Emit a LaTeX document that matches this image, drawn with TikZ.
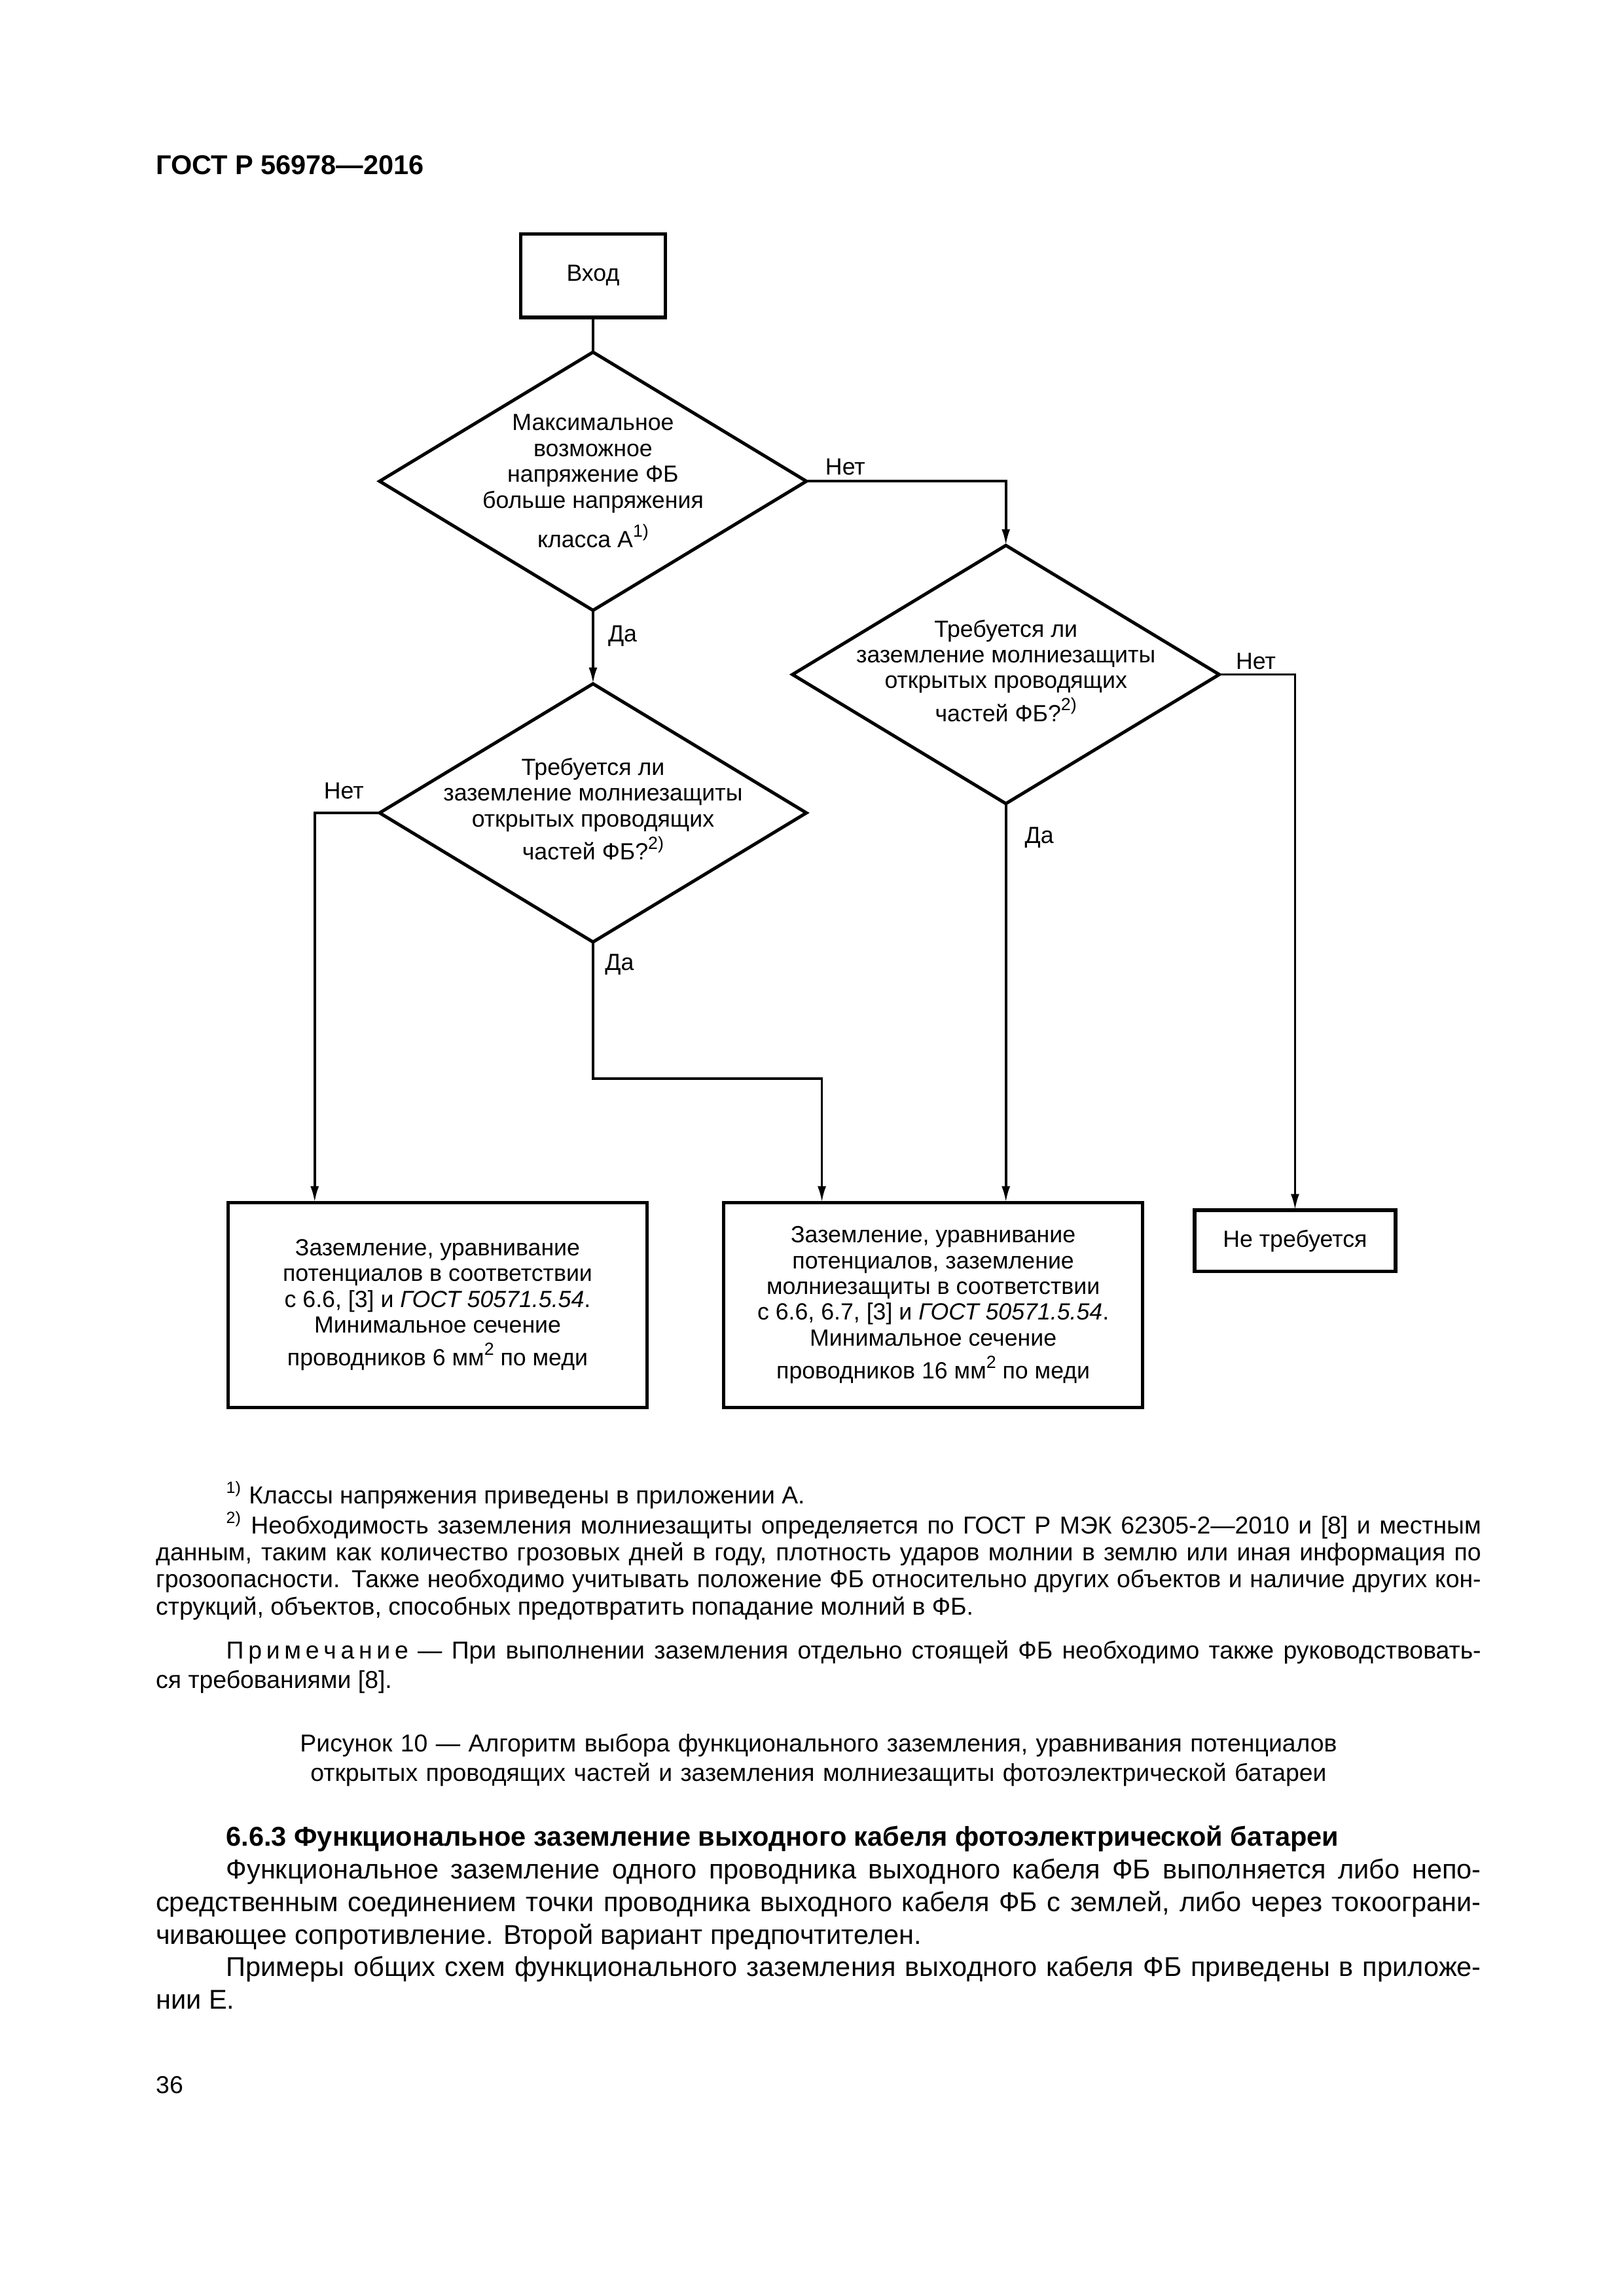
\documentclass[tikz,border=0pt]{standalone}
\usepackage{fontspec}
\usepackage{graphicx}
\setmainfont{Liberation Sans}
\usetikzlibrary{shapes.geometric, arrows.meta}
\usetikzlibrary{positioning}
\tikzstyle{startstop} = [rectangle, minimum width=1.87cm, minimum height=1.08cm, text centered, draw=black, line width=1.3pt, outer sep=0pt, font=\fontsize{8.6}{9.5}\selectfont]
\tikzstyle{decision} = [diamond, minimum width=5.52cm, minimum height=3.34cm, draw=black, line width=1.2pt, inner sep=0pt, outer sep=0pt]
\tikzstyle{dtext} = [align=center, inner sep=0pt, font=\fontsize{8.6}{9.5}\selectfont]
\tikzstyle{process} = [rectangle, minimum width=5.42cm, minimum height=2.65cm, align=center, draw=black, line width=1.3pt, outer sep=0pt, font=\fontsize{8.6}{9.5}\selectfont]
\tikzstyle{arrow} = [line width=0.9pt, -{Latex[length=2.1mm, width=1.1mm]}]
\tikzstyle{conn} = [line width=0.9pt]
\tikzstyle{lbl} = [inner sep=0pt, font=\fontsize{8.6}{9.5}\selectfont]
\tikzstyle{para} = [inner sep=0pt, text width=17.14cm, align=justify, anchor=base west]
\newcommand{\sps}{\kern0.57mm}
\newcommand{\supr}[1]{\smash{\raisebox{0.45em}{\scalebox{0.75}{#1}}}}
\hyphenpenalty=10000
\exhyphenpenalty=10000

\begin{document}
\begin{tikzpicture}[node distance=1cm]
    \useasboundingbox (0,0) rectangle (21,-29.7);
    \node (head) [anchor=base west, inner sep=0pt, font=\fontsize{10}{12}\selectfont\bfseries] at (2.01,-2.26) {ГОСТ Р 56978—2016};

    \node (start) [startstop] at (7.67,-3.565) {Вход};
    \node (dec1) [decision, below=0.45cm of start] {};
    \node (dec1txt) [dtext] at (dec1) {Максимальное\\возможное\\напряжение ФБ\\больше напряжения\\[1.8mm]класса А\supr{1)}};
    \node (dec2) [decision, right=-0.18cm of dec1, yshift=-2.5cm] {};
    \node (dec2txt) [dtext, yshift=0.05cm] at (dec2) {Требуется ли\\заземление молниезащиты\\открытых проводящих\\[0.9mm]частей ФБ?\supr{2)}};
    \node (dec3) [decision, below=0.95cm of dec1] {};
    \node (dec3txt) [dtext, yshift=0.05cm] at (dec3) {Требуется ли\\заземление молниезащиты\\открытых проводящих\\[0.9mm]частей ФБ?\supr{2)}};
    \node (pro1) [process, below=3.37cm of dec3, xshift=-2.01cm] {Заземление, уравнивание\\потенциалов в соответствии\\с 6.6, [3] и \textit{ГОСТ 50571.5.54}.\\Минимальное сечение\\[0.9mm]проводников 6 мм\supr{2} по меди};
    \node (pro2) [process, right=0.99cm of pro1] {Заземление, уравнивание\\потенциалов, заземление\\молниезащиты в соответствии\\с 6.6, 6.7, [3] и \textit{ГОСТ 50571.5.54}.\\Минимальное сечение\\[0.9mm]проводников 16 мм\supr{2} по меди};
    \node (pro3) [process, minimum width=2.6cm, minimum height=0.79cm, right=0.67cm of pro2, yshift=0.83cm] {Не требуется};

    \draw[conn] (start) -- (dec1);
    \draw[arrow] (dec1.east) -| node[lbl, pos=0, anchor=base west, xshift=0.23cm, yshift=0.08cm] {Нет} (dec2.north);
    \draw[arrow] (dec1.south) -- node[lbl, pos=0, anchor=base west, xshift=0.18cm, yshift=-0.41cm] {Да} (dec3.north);
    \draw[arrow] (dec2.east) -| node[lbl, pos=0, anchor=base west, xshift=0.2cm, yshift=0.07cm] {Нет} (pro3.north);
    \draw[arrow] (dec2.south) -- node[lbl, pos=0, anchor=base west, xshift=0.23cm, yshift=-0.51cm] {Да} (dec2.south |- pro2.north);
    \draw[arrow] (dec3.west) -| node[lbl, pos=0, anchor=base east, xshift=-0.19cm, yshift=0.18cm] {Нет} ([xshift=1.12cm]pro1.north west);
    \draw[arrow] (dec3.south) -- node[lbl, pos=0, anchor=base west, xshift=0.14cm, yshift=-0.37cm] {Да} ++(0,-1.77) -| ([xshift=1.27cm]pro2.north west);

    \node (notes) [para, font=\fontsize{9}{9.96}\selectfont] at (2.01,-19.45) {\hspace*{0.91cm}\textsuperscript{1)} Классы напряжения приведены в приложении А.\par
    \hspace*{0.91cm}\textsuperscript{2)} Необходимость заземления молниезащиты определяется по ГОСТ Р МЭК 62305-2—2010 и [8] и местным\linebreak данным, таким как количество грозовых дней в году, плотность ударов молнии в землю или иная информация по\linebreak грозоопасности. Также необходимо учитывать положение ФБ относительно других объектов и наличие других кон-\linebreak струкций, объектов, способных предотвратить попадание молний в ФБ.};
    \node (remark) [para, font=\fontsize{9}{10.8}\selectfont] at (2.01,-21.455) {\hspace*{0.91cm}П\sps р\sps и\sps м\sps е\sps ч\sps а\sps н\sps и\sps е — При выполнении заземления отдельно стоящей ФБ необходимо также руководствовать-\linebreak ся требованиями [8].};
    \node (caption) [para, align=center, font=\fontsize{9}{10.8}\selectfont] at (2.01,-22.66) {Рисунок 10 — Алгоритм выбора функционального заземления, уравнивания потенциалов\\открытых проводящих частей и заземления молниезащиты фотоэлектрической батареи};
    \node (sect) [para, font=\fontsize{10}{12}\selectfont] at (2.01,-23.88) {\hspace*{0.91cm}\textbf{6.6.3 Функциональное заземление выходного кабеля фотоэлектрической батареи}\par
    \hspace*{0.91cm}Функциональное заземление одного проводника выходного кабеля ФБ выполняется либо непо-\linebreak средственным соединением точки проводника выходного кабеля ФБ с землей, либо через токоограни-\linebreak чивающее сопротивление. Второй вариант предпочтителен.\par
    \hspace*{0.91cm}Примеры общих схем функционального заземления выходного кабеля ФБ приведены в приложе-\linebreak нии Е.};
    \node (page) [anchor=base west, inner sep=0pt, font=\fontsize{9}{10}\selectfont] at (2.01,-27.08) {36};
\end{tikzpicture}
\end{document}
